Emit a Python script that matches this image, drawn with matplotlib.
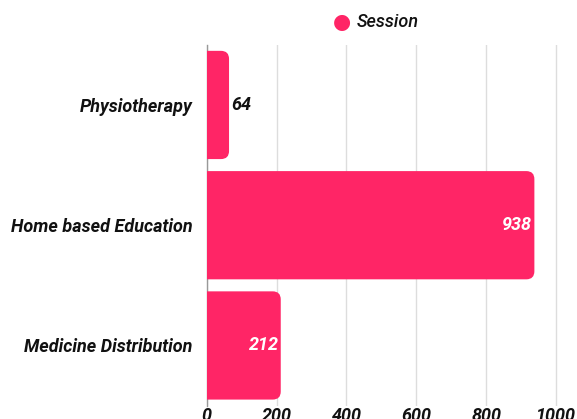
import matplotlib
matplotlib.use("Agg")
import matplotlib.pyplot as plt
from matplotlib.patches import FancyBboxPatch

categories = ["Physiotherapy", "Home based Education", "Medicine Distribution"]
sessions = [64, 938, 212]
ticks = [0, 200, 400, 600, 800, 1000]
series_name = "Session"

pink = "#FF2566"
plt.rcParams['font.family'] = ['Roboto', 'DejaVu Sans']

fig = plt.figure(figsize=(5.77, 4.19), dpi=100)
ax = fig.add_axes([0.3582, 0.032, 0.6418, 0.861])

ypos = list(range(len(categories)))
bars = ax.barh(ypos, sessions, height=0.9, color=pink)

ax.set_xlim(0, 1060)
ax.set_ylim(len(categories) - 0.5, -0.5)

# rounded right corners (~8px); left corners pushed past the axis and clipped
rx = 23.0
ry = 0.067
for b in bars:
    x0, y0 = b.get_x(), b.get_y()
    w, h = b.get_width(), b.get_height()
    b.set_visible(False)
    p = FancyBboxPatch((x0 - 2 * rx, y0), w + 2 * rx, h,
                       boxstyle=f"round,pad=0,rounding_size={rx}",
                       mutation_aspect=ry / rx,
                       fc=pink, ec="none", zorder=2)
    ax.add_patch(p)
    p.set_clip_path(ax.patch)

for y, v in zip(ypos, sessions):
    if v > 150:
        ax.text(v - 6, y, str(v), ha="right", va="center", color="white",
                fontsize=13, fontweight="bold", fontstyle="italic", zorder=3)
    else:
        ax.text(v + 6, y, str(v), ha="left", va="center", color="#111111",
                fontsize=13, fontweight="bold", fontstyle="italic", zorder=3)

ax.set_xticks(ticks)
ax.set_xticklabels([str(t) for t in ticks])
ax.set_yticks(ypos)
ax.set_yticklabels(categories)
for lab in ax.get_xticklabels() + ax.get_yticklabels():
    lab.set_fontweight("bold")
    lab.set_fontstyle("italic")
    lab.set_color("#111111")
    lab.set_fontsize(13)
ax.tick_params(axis="both", length=0)
ax.tick_params(axis="y", pad=10)
ax.tick_params(axis="x", pad=1)

ax.grid(axis="x", color="#dddddd", linewidth=1, zorder=0)
ax.set_axisbelow(True)
for s in ["top", "right", "bottom"]:
    ax.spines[s].set_visible(False)
ax.spines["left"].set_color("#999999")
ax.spines["left"].set_linewidth(1)
ax.spines["left"].set_zorder(1)

# legend
fig.text(0.592, 0.947, "\u25CF", color=pink, fontsize=15, ha="center", va="center")
fig.text(0.619, 0.947, series_name, color="#111111", fontsize=13, fontstyle="italic",
         fontweight="medium", ha="left", va="center")

fig.savefig("out.png", dpi=100)
